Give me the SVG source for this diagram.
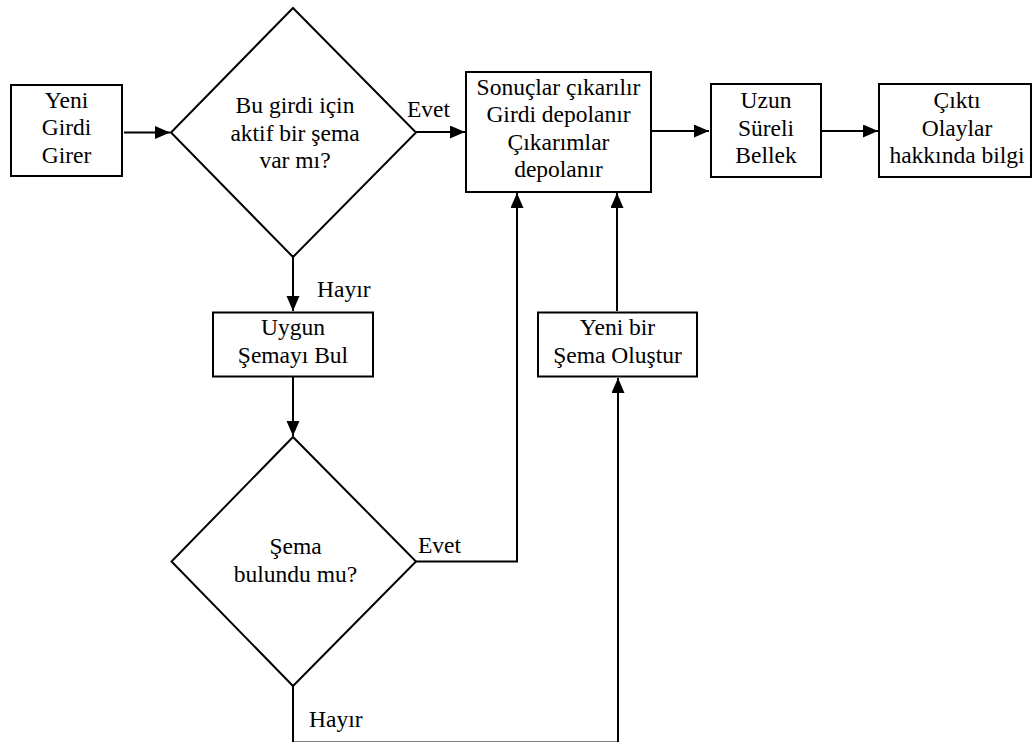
<svg xmlns="http://www.w3.org/2000/svg" width="1032" height="742" viewBox="0 0 1032 742">
<style>
.n{fill:#fff;stroke:#000;stroke-width:2}
text{font-family:'Liberation Serif','DejaVu Serif',serif;font-size:23.5px;fill:#000}
.t{text-anchor:middle}
.c{fill:none;stroke:#000;stroke-width:2}
</style>
<defs>
<marker id="ah" markerUnits="userSpaceOnUse" markerWidth="16" markerHeight="14" refX="15" refY="6.5" orient="auto">
<path d="M0,0 L15,6.5 L0,13 z" fill="#000"/>
</marker>
</defs>
<rect width="1032" height="742" fill="#fff"/>
<g id="connectors">
<line class="c" x1="124" y1="132.5" x2="170" y2="132.5" marker-end="url(#ah)"/>
<line class="c" x1="416" y1="132" x2="465" y2="132" marker-end="url(#ah)"/>
<line class="c" x1="652" y1="131" x2="709" y2="131" marker-end="url(#ah)"/>
<line class="c" x1="822" y1="131" x2="878" y2="131" marker-end="url(#ah)"/>
<line class="c" x1="293" y1="257" x2="293" y2="311" marker-end="url(#ah)"/>
<line class="c" x1="293" y1="377" x2="293" y2="436" marker-end="url(#ah)"/>
<polyline class="c" points="416,561.5 517,561.5 517,193" marker-end="url(#ah)"/>
<line class="c" x1="617" y1="311" x2="617" y2="193" marker-end="url(#ah)"/>
<polyline class="c" points="293,686 293,742.6 618,742.6 618,378" marker-end="url(#ah)"/>
<text x="407" y="117" font-family="Liberation Serif, serif">Evet</text>
<text x="317" y="297" font-family="Liberation Serif, serif">Hayır</text>
<text x="418" y="553" font-family="Liberation Serif, serif">Evet</text>
<text x="309" y="727" font-family="Liberation Serif, serif">Hayır</text>
</g>
<g id="yeni-girdi">
<rect class="n" x="11" y="85" width="111" height="91"/>
<text class="t" x="66.5" y="107.5">Yeni</text>
<text class="t" x="66.5" y="135">Girdi</text>
<text class="t" x="66.5" y="162.5">Girer</text>
</g>
<g id="aktif-sema">
<polygon class="n" points="293,8 416,132.5 293,257 171,132.5"/>
<text class="t" x="295" y="113">Bu girdi için</text>
<text class="t" x="295" y="140.5">aktif bir şema</text>
<text class="t" x="295" y="168">var mı?</text>
</g>
<g id="sonuclar">
<rect class="n" x="466" y="72" width="185" height="120"/>
<text class="t" x="558.5" y="94.5">Sonuçlar çıkarılır</text>
<text class="t" x="558.5" y="122">Girdi depolanır</text>
<text class="t" x="558.5" y="149.5">Çıkarımlar</text>
<text class="t" x="558.5" y="177">depolanır</text>
</g>
<g id="uzun-sureli">
<rect class="n" x="711" y="84" width="110" height="93"/>
<text class="t" x="766" y="108">Uzun</text>
<text class="t" x="766" y="135.5">Süreli</text>
<text class="t" x="766" y="163">Bellek</text>
</g>
<g id="cikti">
<rect class="n" x="879" y="84" width="152" height="93"/>
<text class="t" x="957" y="108">Çıktı</text>
<text class="t" x="957" y="135.5">Olaylar</text>
<text class="t" x="957" y="163">hakkında bilgi</text>
</g>
<g id="uygun-sema">
<rect class="n" x="213" y="312.5" width="160" height="64"/>
<text class="t" x="293" y="335">Uygun</text>
<text class="t" x="293" y="362.5">Şemayı Bul</text>
</g>
<g id="sema-bulundu">
<polygon class="n" points="293,437 416,561.5 293,686 171.5,561.5"/>
<text class="t" x="295.5" y="554">Şema</text>
<text class="t" x="295.5" y="581.5">bulundu mu?</text>
</g>
<g id="yeni-sema">
<rect class="n" x="538" y="312.5" width="159" height="64"/>
<text class="t" x="617.5" y="335">Yeni bir</text>
<text class="t" x="617.5" y="362.5">Şema Oluştur</text>
</g>
</svg>
